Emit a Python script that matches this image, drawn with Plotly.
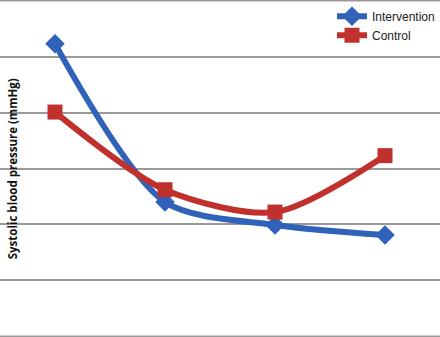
import plotly.graph_objects as go

timepoints = [1, 2, 3, 4]
intervention = [152.3, 124.0, 119.9, 118.1]
control = [140.1, 126.2, 122.2, 132.3]
y_title = "Systolic blood pressure (mmHg)"
y_min, y_max = 100, 160

fig = go.Figure()
fig.add_trace(go.Scatter(
    x=timepoints, y=intervention, name="Intervention", mode="lines+markers",
    line=dict(color="#2F62B8", width=6, shape="spline", smoothing=0.8),
    marker=dict(symbol="diamond", size=15, color="#2F62B8"),
))
fig.add_trace(go.Scatter(
    x=timepoints, y=control, name="Control", mode="lines+markers",
    line=dict(color="#C0302C", width=6, shape="spline", smoothing=0.8),
    marker=dict(symbol="square", size=15, color="#C0302C"),
))

fig.update_layout(
    width=440, height=337,
    margin=dict(l=0, r=0, t=0, b=0),
    paper_bgcolor="white", plot_bgcolor="white",
    showlegend=True,
    legend=dict(x=1, xanchor="right", y=0.995, yanchor="top",
                bgcolor="rgba(0,0,0,0)", font=dict(family="Liberation Sans, Arial", size=12, color="#222"),
                itemwidth=30, tracegroupgap=0),
    xaxis=dict(range=[0.5, 4.5], showgrid=False, showticklabels=False, zeroline=False,
               showline=False, ticks=""),
    yaxis=dict(range=[y_min - 0.15, y_max + 0.15], dtick=10, tick0=100, showgrid=True, gridcolor="#9a9a9a",
               gridwidth=1.5, showticklabels=False, zeroline=False, showline=False, ticks=""),
)
for yv in (y_min, y_max):
    fig.add_shape(type="line", xref="paper", x0=0, x1=1, yref="y", y0=yv, y1=yv,
                  line=dict(color="#9a9a9a", width=1.5), layer="below")
fig.add_annotation(
    text="<b>" + y_title + "</b>", textangle=-90, xref="paper", yref="paper",
    x=0.029, xanchor="center", y=0.5, yanchor="middle", showarrow=False,
    font=dict(family="Open Sans, Liberation Sans", size=11.5, color="#111"),
)
fig.write_html("out.html")
